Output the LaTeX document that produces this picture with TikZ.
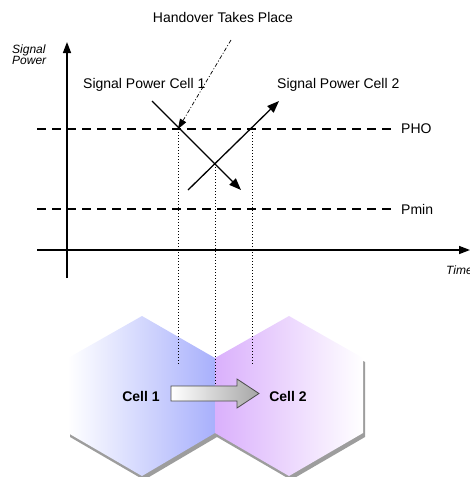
\documentclass[tikz,border=0pt]{standalone}
\usepackage{fontspec}
\setmainfont{Liberation Sans}
\usetikzlibrary{arrows.meta,shadows}
\definecolor{cellblue}{RGB}{168,176,252}
\definecolor{cellpurple}{RGB}{218,176,252}
\tikzset{
  axis/.style={line width=1.5pt,-{Triangle[length=11pt,width=8pt]}},
  level/.style={line width=1.5pt,dash pattern=on 9pt off 6pt},
  sigline/.style={line width=1.3pt,-{Triangle[length=12pt,width=9pt]}},
  guide/.style={line width=0.9pt,dash pattern=on 1pt off 2pt},
  hoarrow/.style={line width=0.7pt,dash pattern=on 4pt off 2pt on 1pt off 2pt,-{Triangle[length=10pt,width=7pt]}},
  lbl/.style={font=\fontsize{14}{16}\selectfont,inner sep=0pt},
  axlbl/.style={font=\fontsize{12}{13}\selectfont\itshape,inner sep=0pt,align=left},
  celllbl/.style={font=\fontsize{14}{16}\selectfont\bfseries,inner sep=0pt},
  hexshadow/.style={drop shadow={shadow xshift=2pt,shadow yshift=-4pt,opacity=0.55,fill=black!70}},
}
\begin{document}
\begin{tikzpicture}[x=1pt,y=-1pt]
\useasboundingbox (0,0) rectangle (470,477);
% hexagons
\path[hexshadow,left color=white,right color=cellblue]
  (142,316) -- (215,358) -- (215,433) -- (142,476) -- (68,433) -- (68,358) -- cycle;
\path[hexshadow,left color=cellpurple,right color=white]
  (289,316) -- (363,358) -- (363,433) -- (289,476) -- (215,433) -- (215,358) -- cycle;
% coordinates
\coordinate (yb) at (67,278);
\coordinate (yt) at (67,42);
\coordinate (xl) at (37,250);
\coordinate (xr) at (470,250);
\coordinate (phoL) at (37,129);
\coordinate (phoR) at (392,129);
\coordinate (pminL) at (37,209);
\coordinate (pminR) at (392,209);
\coordinate (c1s) at (152,101);
\coordinate (c1e) at (241,190);
\coordinate (c2s) at (188,190);
\coordinate (c2e) at (279,101);
\coordinate (hoS) at (231,40);
\coordinate (hoE) at (178,129);
\coordinate (g1t) at (178,129);
\coordinate (g1b) at (178,364);
\coordinate (g2t) at (215,164);
\coordinate (g2b) at (215,384);
\coordinate (g3t) at (252,129);
\coordinate (g3b) at (252,364);
% guides
\draw[guide] (g1t) -- (g1b);
\draw[guide] (g2t) -- (g2b);
\draw[guide] (g3t) -- (g3b);
% axes
\draw[axis] (yb) -- (yt);
\draw[axis] (xl) -- (xr);
% levels
\draw[level] (phoL) -- (phoR);
\draw[level] (pminL) -- (pminR);
% signal lines
\draw[sigline] (c1s) -- (c1e);
\draw[sigline] (c2s) -- (c2e);
\draw[hoarrow] (hoS) -- (hoE);
% labels
\node[lbl] (ho) at (223,17) {Handover Takes Place};
\node[axlbl,anchor=north west] (sp) at (12,45) {Signal\\[-2pt]Power};
\node[lbl,anchor=west] (spc1) at (83,85) {Signal Power Cell 1};
\node[lbl,anchor=west] (spc2) at (277,85) {Signal Power Cell 2};
\node[lbl,anchor=west] (pho) at (401,129) {PHO};
\node[lbl,anchor=west] (pmin) at (401,209) {Pmin};
\node[axlbl,anchor=west] (time) at (446,270) {Time};
% block arrow
\draw[draw=black!70,line width=0.8pt,left color=white,right color=black!35]
  (171,386) -- (237,386) -- (237,379) -- (259,393.5) -- (237,408) -- (237,401) -- (171,401) -- cycle;
\node[celllbl] (cell1) at (141,396) {Cell 1};
\node[celllbl] (cell2) at (288,396) {Cell 2};
\end{tikzpicture}
\end{document}
